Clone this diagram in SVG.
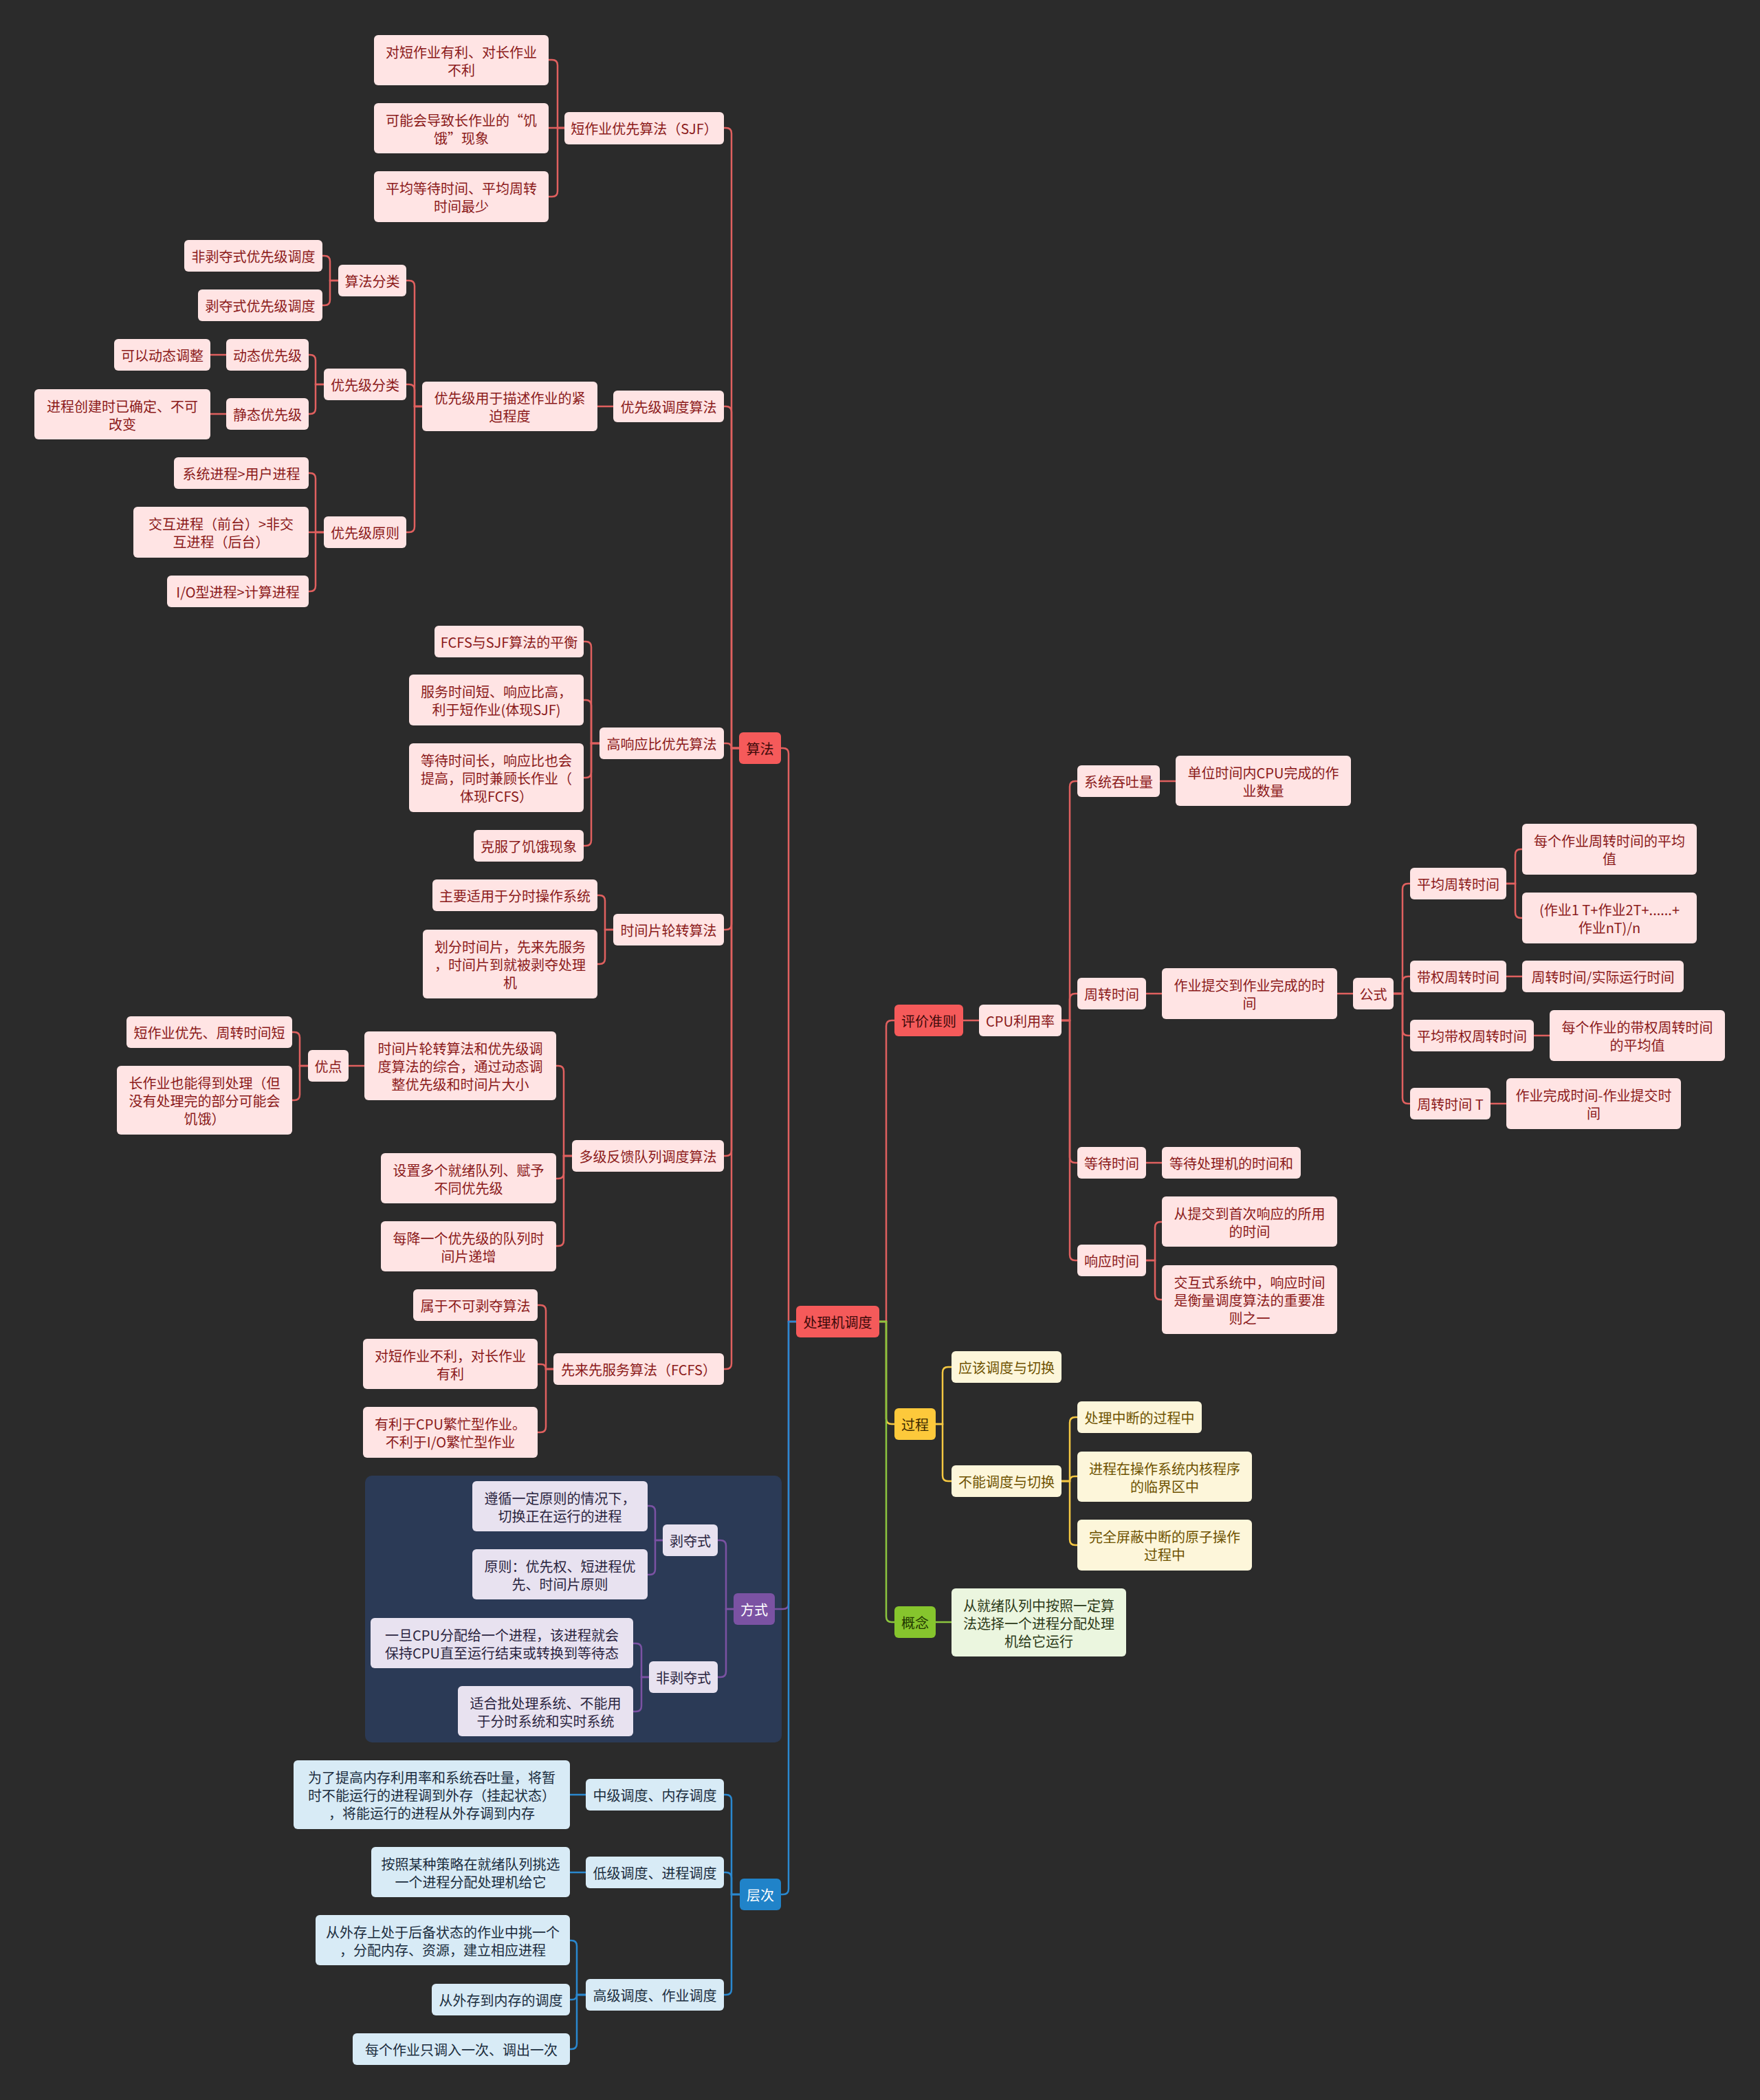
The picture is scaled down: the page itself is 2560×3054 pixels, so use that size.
<svg xmlns="http://www.w3.org/2000/svg" width="2560" height="3054" viewBox="0 0 2560 3054">
<style>
text{font-family:"Noto Sans CJK SC","Noto Sans",sans-serif;font-size:20px;text-anchor:middle;dominant-baseline:central}
rect{rx:6px;ry:6px}
.pk rect{fill:#ffe4e4}.pk text{fill:#8b1a1a}
.rd rect{fill:#f55a5a}.rd text{fill:#3d0a0a}
.pu rect{fill:#7b52a3}.pu text{fill:#ffffff}
.lv rect{fill:#e8e2f0}.lv text{fill:#2b2540}
.bl rect{fill:#2083c9}.bl text{fill:#ffffff}
.lb rect{fill:#d8ebf6}.lb text{fill:#1b2d3e}
.ye rect{fill:#fdc93b}.ye text{fill:#3d2a00}
.cr rect{fill:#fdf6da}.cr text{fill:#6e5200}
.gr rect{fill:#86c52d}.gr text{fill:#213600}
.lg rect{fill:#ebf6df}.lg text{fill:#2c3a18}
#links path{fill:none;stroke-width:2.5}
.cR{stroke:#e0605f}.cP{stroke:#7b52a3}.cB{stroke:#2a88cf}.cY{stroke:#f5c842}.cG{stroke:#8cc63f}
</style>
<rect x="0" y="0" width="2560" height="3054" fill="#2b2b2b" style="rx:0;ry:0"/>
<rect x="531" y="2146" width="606" height="388" fill="#2b3a56" style="rx:10px;ry:10px"/>
<g id="links">
<path class="cR" d="M1158 1922 H1147 V1096 Q1147 1088 1139 1088 H1136"/>
<path class="cP" d="M1158 1922 H1147 V2332 Q1147 2340 1139 2340 H1127"/>
<path class="cB" d="M1158 1922 H1147 V2747 Q1147 2755 1139 2755 H1136"/>
<path class="cR" d="M1279 1922 H1289 V1492 Q1289 1484 1297 1484 H1301"/>
<path class="cY" d="M1279 1922 H1289 V2063 Q1289 2071 1297 2071 H1301"/>
<path class="cG" d="M1279 1922 H1289 V2351 Q1289 2359 1297 2359 H1301"/>
<path class="cR" d="M1075 1088 H1064 V194 Q1064 186 1056 186 H1053"/>
<path class="cR" d="M1075 1088 H1064 V599 Q1064 591 1056 591 H1053"/>
<path class="cR" d="M1075 1088 H1064 Q1064 1081 1057 1081 H1053"/>
<path class="cR" d="M1075 1088 H1064 V1344 Q1064 1352 1056 1352 H1053"/>
<path class="cR" d="M1075 1088 H1064 V1673 Q1064 1681 1056 1681 H1053"/>
<path class="cR" d="M1075 1088 H1064 V1983 Q1064 1991 1056 1991 H1053"/>
<path class="cR" d="M821 186 H811 V95 Q811 87 803 87 H798"/>
<path class="cR" d="M821 186 H798"/>
<path class="cR" d="M821 186 H811 V278 Q811 286 803 286 H798"/>
<path class="cR" d="M892 591 H869"/>
<path class="cR" d="M614 591 H603 V416 Q603 408 595 408 H591"/>
<path class="cR" d="M614 591 H603 V567 Q603 559 595 559 H591"/>
<path class="cR" d="M614 591 H603 V766 Q603 774 595 774 H591"/>
<path class="cR" d="M492 408 H480 V380 Q480 372 472 372 H469"/>
<path class="cR" d="M492 408 H480 V436 Q480 444 472 444 H469"/>
<path class="cR" d="M471 559 H459 V524 Q459 516 451 516 H449"/>
<path class="cR" d="M471 559 H459 V594 Q459 602 451 602 H449"/>
<path class="cR" d="M329 516 H306"/>
<path class="cR" d="M329 602 H306"/>
<path class="cR" d="M471 774 H459 V696 Q459 688 451 688 H449"/>
<path class="cR" d="M471 774 H449"/>
<path class="cR" d="M471 774 H459 V852 Q459 860 451 860 H449"/>
<path class="cR" d="M872 1081 H860 V941 Q860 933 852 933 H849"/>
<path class="cR" d="M872 1081 H860 V1026 Q860 1018 852 1018 H849"/>
<path class="cR" d="M872 1081 H860 V1123 Q860 1131 852 1131 H849"/>
<path class="cR" d="M872 1081 H860 V1222 Q860 1230 852 1230 H849"/>
<path class="cR" d="M892 1352 H880 V1310 Q880 1302 872 1302 H869"/>
<path class="cR" d="M892 1352 H880 V1394 Q880 1402 872 1402 H869"/>
<path class="cR" d="M832 1681 H820 V1558 Q820 1550 812 1550 H809"/>
<path class="cR" d="M832 1681 H820 V1706 Q820 1714 812 1714 H809"/>
<path class="cR" d="M832 1681 H820 V1804 Q820 1812 812 1812 H809"/>
<path class="cR" d="M530 1550 H507"/>
<path class="cR" d="M448 1550 H436 V1509 Q436 1501 428 1501 H425"/>
<path class="cR" d="M448 1550 H436 V1592 Q436 1600 428 1600 H425"/>
<path class="cR" d="M805 1991 H794 V1906 Q794 1898 786 1898 H782"/>
<path class="cR" d="M805 1991 H794 Q794 1984 787 1984 H782"/>
<path class="cR" d="M805 1991 H794 V2075 Q794 2083 786 2083 H782"/>
<path class="cP" d="M1067 2340 H1056 V2248 Q1056 2240 1048 2240 H1044"/>
<path class="cP" d="M1067 2340 H1056 V2431 Q1056 2439 1048 2439 H1044"/>
<path class="cP" d="M964 2240 H953 V2198 Q953 2190 945 2190 H942"/>
<path class="cP" d="M964 2240 H953 V2282 Q953 2290 945 2290 H942"/>
<path class="cP" d="M944 2439 H933 V2398 Q933 2390 925 2390 H921"/>
<path class="cP" d="M944 2439 H933 V2481 Q933 2489 925 2489 H921"/>
<path class="cB" d="M1076 2755 H1064 V2618 Q1064 2610 1056 2610 H1053"/>
<path class="cB" d="M1076 2755 H1064 V2731 Q1064 2723 1056 2723 H1053"/>
<path class="cB" d="M1076 2755 H1064 V2893 Q1064 2901 1056 2901 H1053"/>
<path class="cB" d="M852 2610 H829"/>
<path class="cB" d="M852 2723 H829"/>
<path class="cB" d="M852 2901 H839 V2830 Q839 2822 831 2822 H829"/>
<path class="cB" d="M852 2901 H839 Q839 2908 832 2908 H829"/>
<path class="cB" d="M852 2901 H839 V2972 Q839 2980 831 2980 H829"/>
<path class="cR" d="M1401 1484 H1424"/>
<path class="cR" d="M1544 1484 H1556 V1144 Q1556 1136 1564 1136 H1567"/>
<path class="cR" d="M1544 1484 H1556 V1453 Q1556 1445 1564 1445 H1567"/>
<path class="cR" d="M1544 1484 H1556 V1683 Q1556 1691 1564 1691 H1567"/>
<path class="cR" d="M1544 1484 H1556 V1825 Q1556 1833 1564 1833 H1567"/>
<path class="cR" d="M1687 1136 H1710"/>
<path class="cR" d="M1667 1445 H1690"/>
<path class="cR" d="M1945 1445 H1968"/>
<path class="cR" d="M2027 1445 H2040 V1293 Q2040 1285 2048 1285 H2051"/>
<path class="cR" d="M2027 1445 H2040 V1428 Q2040 1420 2048 1420 H2051"/>
<path class="cR" d="M2027 1445 H2040 V1498 Q2040 1506 2048 1506 H2051"/>
<path class="cR" d="M2027 1445 H2040 V1597 Q2040 1605 2048 1605 H2051"/>
<path class="cR" d="M2191 1285 H2204 V1243 Q2204 1235 2212 1235 H2214"/>
<path class="cR" d="M2191 1285 H2204 V1327 Q2204 1335 2212 1335 H2214"/>
<path class="cR" d="M2191 1420 H2214"/>
<path class="cR" d="M2231 1506 H2254"/>
<path class="cR" d="M2168 1605 H2191"/>
<path class="cR" d="M1667 1691 H1690"/>
<path class="cR" d="M1667 1833 H1680 V1785 Q1680 1777 1688 1777 H1690"/>
<path class="cR" d="M1667 1833 H1680 V1882 Q1680 1890 1688 1890 H1690"/>
<path class="cY" d="M1361 2071 H1371 V1996 Q1371 1988 1379 1988 H1384"/>
<path class="cY" d="M1361 2071 H1371 V2146 Q1371 2154 1379 2154 H1384"/>
<path class="cY" d="M1544 2154 H1556 V2069 Q1556 2061 1564 2061 H1567"/>
<path class="cY" d="M1544 2154 H1556 Q1556 2147 1563 2147 H1567"/>
<path class="cY" d="M1544 2154 H1556 V2239 Q1556 2247 1564 2247 H1567"/>
<path class="cG" d="M1361 2359 H1384"/>
</g>
<g id="n1" class="pk"><rect x="544" y="51" width="254" height="73"/><text><tspan x="671" y="74.5">对短作业有利、对长作业</tspan><tspan x="671" y="100.5">不利</tspan></text></g>
<g id="n2" class="pk"><rect x="544" y="150" width="254" height="73"/><text><tspan x="671" y="173.5">可能会导致长作业的“饥</tspan><tspan x="671" y="199.5">饿”现象</tspan></text></g>
<g id="n3" class="pk"><rect x="544" y="249" width="254" height="74"/><text><tspan x="671" y="273">平均等待时间、平均周转</tspan><tspan x="671" y="299">时间最少</tspan></text></g>
<g id="n4" class="pk"><rect x="821" y="163" width="232" height="47"/><text x="937" y="186.5">短作业优先算法（SJF）</text></g>
<g id="n5" class="pk"><rect x="268" y="349" width="201" height="46"/><text x="368.5" y="372">非剥夺式优先级调度</text></g>
<g id="n6" class="pk"><rect x="288" y="421" width="181" height="46"/><text x="378.5" y="444">剥夺式优先级调度</text></g>
<g id="n7" class="pk"><rect x="492" y="385" width="99" height="46"/><text x="541.5" y="408">算法分类</text></g>
<g id="n8" class="pk"><rect x="166" y="493" width="140" height="46"/><text x="236" y="516">可以动态调整</text></g>
<g id="n9" class="pk"><rect x="329" y="493" width="120" height="46"/><text x="389" y="516">动态优先级</text></g>
<g id="n10" class="pk"><rect x="471" y="536" width="120" height="46"/><text x="531" y="559">优先级分类</text></g>
<g id="n11" class="pk"><rect x="50" y="566" width="256" height="73"/><text><tspan x="178" y="589.5">进程创建时已确定、不可</tspan><tspan x="178" y="615.5">改变</tspan></text></g>
<g id="n12" class="pk"><rect x="329" y="579" width="120" height="46"/><text x="389" y="602">静态优先级</text></g>
<g id="n13" class="pk"><rect x="614" y="555" width="255" height="72"/><text><tspan x="741.5" y="578">优先级用于描述作业的紧</tspan><tspan x="741.5" y="604">迫程度</tspan></text></g>
<g id="n14" class="pk"><rect x="892" y="568" width="161" height="46"/><text x="972.5" y="591">优先级调度算法</text></g>
<g id="n15" class="pk"><rect x="253" y="665" width="196" height="46"/><text x="351" y="688">系统进程&gt;用户进程</text></g>
<g id="n16" class="pk"><rect x="194" y="737" width="255" height="74"/><text><tspan x="321.5" y="761">交互进程（前台）&gt;非交</tspan><tspan x="321.5" y="787">互进程（后台）</tspan></text></g>
<g id="n17" class="pk"><rect x="243" y="837" width="206" height="46"/><text x="346" y="860">I/O型进程&gt;计算进程</text></g>
<g id="n18" class="pk"><rect x="471" y="751" width="120" height="46"/><text x="531" y="774">优先级原则</text></g>
<g id="n19" class="pk"><rect x="632" y="910" width="217" height="46"/><text x="740.5" y="933">FCFS与SJF算法的平衡</text></g>
<g id="n20" class="pk"><rect x="595" y="981" width="254" height="74"/><text><tspan x="722" y="1005">服务时间短、响应比高，</tspan><tspan x="722" y="1031">利于短作业(体现SJF)</tspan></text></g>
<g id="n21" class="pk"><rect x="595" y="1081" width="254" height="100"/><text><tspan x="722" y="1105">等待时间长，响应比也会</tspan><tspan x="722" y="1131">提高，同时兼顾长作业（</tspan><tspan x="722" y="1157">体现FCFS）</tspan></text></g>
<g id="n22" class="pk"><rect x="689" y="1207" width="160" height="46"/><text x="769" y="1230">克服了饥饿现象</text></g>
<g id="n23" class="pk"><rect x="872" y="1058" width="181" height="46"/><text x="962.5" y="1081">高响应比优先算法</text></g>
<g id="n24" class="pk"><rect x="629" y="1279" width="240" height="46"/><text x="749" y="1302">主要适用于分时操作系统</text></g>
<g id="n25" class="pk"><rect x="615" y="1352" width="254" height="100"/><text><tspan x="742" y="1376">划分时间片，先来先服务</tspan><tspan x="742" y="1402">，时间片到就被剥夺处理</tspan><tspan x="742" y="1428">机</tspan></text></g>
<g id="n26" class="pk"><rect x="892" y="1329" width="161" height="46"/><text x="972.5" y="1352">时间片轮转算法</text></g>
<g id="n27" class="pk"><rect x="184" y="1478" width="241" height="46"/><text x="304.5" y="1501">短作业优先、周转时间短</text></g>
<g id="n28" class="pk"><rect x="170" y="1550" width="255" height="100"/><text><tspan x="297.5" y="1574">长作业也能得到处理（但</tspan><tspan x="297.5" y="1600">没有处理完的部分可能会</tspan><tspan x="297.5" y="1626">饥饿）</tspan></text></g>
<g id="n29" class="pk"><rect x="448" y="1527" width="59" height="46"/><text x="477.5" y="1550">优点</text></g>
<g id="n30" class="pk"><rect x="530" y="1500" width="279" height="100"/><text><tspan x="669.5" y="1524">时间片轮转算法和优先级调</tspan><tspan x="669.5" y="1550">度算法的综合，通过动态调</tspan><tspan x="669.5" y="1576">整优先级和时间片大小</tspan></text></g>
<g id="n31" class="pk"><rect x="554" y="1677" width="255" height="73"/><text><tspan x="681.5" y="1700.5">设置多个就绪队列、赋予</tspan><tspan x="681.5" y="1726.5">不同优先级</tspan></text></g>
<g id="n32" class="pk"><rect x="554" y="1776" width="255" height="73"/><text><tspan x="681.5" y="1799.5">每降一个优先级的队列时</tspan><tspan x="681.5" y="1825.5">间片递增</tspan></text></g>
<g id="n33" class="pk"><rect x="832" y="1658" width="221" height="46"/><text x="942.5" y="1681">多级反馈队列调度算法</text></g>
<g id="n34" class="pk"><rect x="601" y="1875" width="181" height="46"/><text x="691.5" y="1898">属于不可剥夺算法</text></g>
<g id="n35" class="pk"><rect x="528" y="1947" width="254" height="73"/><text><tspan x="655" y="1970.5">对短作业不利，对长作业</tspan><tspan x="655" y="1996.5">有利</tspan></text></g>
<g id="n36" class="pk"><rect x="528" y="2046" width="254" height="74"/><text><tspan x="655" y="2070">有利于CPU繁忙型作业。</tspan><tspan x="655" y="2096">不利于I/O繁忙型作业</tspan></text></g>
<g id="n37" class="pk"><rect x="805" y="1968" width="248" height="46"/><text x="929" y="1991">先来先服务算法（FCFS）</text></g>
<g id="n38" class="rd"><rect x="1075" y="1065" width="61" height="46"/><text x="1105.5" y="1088">算法</text></g>
<g id="n39" class="rd"><rect x="1158" y="1899" width="121" height="46"/><text x="1218.5" y="1922">处理机调度</text></g>
<g id="n40" class="lv"><rect x="687" y="2154" width="255" height="73"/><text><tspan x="814.5" y="2177.5">遵循一定原则的情况下，</tspan><tspan x="814.5" y="2203.5">切换正在运行的进程</tspan></text></g>
<g id="n41" class="lv"><rect x="687" y="2253" width="255" height="73"/><text><tspan x="814.5" y="2276.5">原则：优先权、短进程优</tspan><tspan x="814.5" y="2302.5">先、时间片原则</tspan></text></g>
<g id="n42" class="lv"><rect x="964" y="2217" width="80" height="46"/><text x="1004" y="2240">剥夺式</text></g>
<g id="n43" class="lv"><rect x="539" y="2353" width="382" height="73"/><text><tspan x="730" y="2376.5">一旦CPU分配给一个进程，该进程就会</tspan><tspan x="730" y="2402.5">保持CPU直至运行结束或转换到等待态</tspan></text></g>
<g id="n44" class="lv"><rect x="666" y="2452" width="255" height="73"/><text><tspan x="793.5" y="2475.5">适合批处理系统、不能用</tspan><tspan x="793.5" y="2501.5">于分时系统和实时系统</tspan></text></g>
<g id="n45" class="lv"><rect x="944" y="2416" width="100" height="46"/><text x="994" y="2439">非剥夺式</text></g>
<g id="n46" class="pu"><rect x="1067" y="2317" width="60" height="46"/><text x="1097" y="2340">方式</text></g>
<g id="n47" class="lb"><rect x="427" y="2560" width="402" height="100"/><text><tspan x="628" y="2584">为了提高内存利用率和系统吞吐量，将暂</tspan><tspan x="628" y="2610">时不能运行的进程调到外存（挂起状态）</tspan><tspan x="628" y="2636">，将能运行的进程从外存调到内存</tspan></text></g>
<g id="n48" class="lb"><rect x="852" y="2587" width="201" height="46"/><text x="952.5" y="2610">中级调度、内存调度</text></g>
<g id="n49" class="lb"><rect x="540" y="2686" width="289" height="73"/><text><tspan x="684.5" y="2709.5">按照某种策略在就绪队列挑选</tspan><tspan x="684.5" y="2735.5">一个进程分配处理机给它</tspan></text></g>
<g id="n50" class="lb"><rect x="852" y="2700" width="201" height="46"/><text x="952.5" y="2723">低级调度、进程调度</text></g>
<g id="n51" class="lb"><rect x="459" y="2785" width="370" height="73"/><text><tspan x="644" y="2808.5">从外存上处于后备状态的作业中挑一个</tspan><tspan x="644" y="2834.5">，分配内存、资源，建立相应进程</tspan></text></g>
<g id="n52" class="lb"><rect x="628" y="2885" width="201" height="46"/><text x="728.5" y="2908">从外存到内存的调度</text></g>
<g id="n53" class="lb"><rect x="513" y="2957" width="316" height="46"/><text x="671" y="2980">每个作业只调入一次、调出一次</text></g>
<g id="n54" class="lb"><rect x="852" y="2878" width="201" height="46"/><text x="952.5" y="2901">高级调度、作业调度</text></g>
<g id="n55" class="bl"><rect x="1076" y="2732" width="60" height="46"/><text x="1106" y="2755">层次</text></g>
<g id="n56" class="rd"><rect x="1301" y="1461" width="100" height="46"/><text x="1351" y="1484">评价准则</text></g>
<g id="n57" class="pk"><rect x="1424" y="1461" width="120" height="46"/><text x="1484" y="1484">CPU利用率</text></g>
<g id="n58" class="pk"><rect x="1567" y="1113" width="120" height="46"/><text x="1627" y="1136">系统吞吐量</text></g>
<g id="n59" class="pk"><rect x="1710" y="1099" width="255" height="73"/><text><tspan x="1837.5" y="1122.5">单位时间内CPU完成的作</tspan><tspan x="1837.5" y="1148.5">业数量</tspan></text></g>
<g id="n60" class="pk"><rect x="1567" y="1422" width="100" height="46"/><text x="1617" y="1445">周转时间</text></g>
<g id="n61" class="pk"><rect x="1690" y="1408" width="255" height="74"/><text><tspan x="1817.5" y="1432">作业提交到作业完成的时</tspan><tspan x="1817.5" y="1458">间</tspan></text></g>
<g id="n62" class="pk"><rect x="1968" y="1422" width="59" height="46"/><text x="1997.5" y="1445">公式</text></g>
<g id="n63" class="pk"><rect x="2051" y="1262" width="140" height="46"/><text x="2121" y="1285">平均周转时间</text></g>
<g id="n64" class="pk"><rect x="2214" y="1198" width="254" height="74"/><text><tspan x="2341" y="1222">每个作业周转时间的平均</tspan><tspan x="2341" y="1248">值</tspan></text></g>
<g id="n65" class="pk"><rect x="2214" y="1298" width="254" height="74"/><text><tspan x="2341" y="1322">(作业1 T+作业2T+......+</tspan><tspan x="2341" y="1348">作业nT)/n</tspan></text></g>
<g id="n66" class="pk"><rect x="2051" y="1397" width="140" height="46"/><text x="2121" y="1420">带权周转时间</text></g>
<g id="n67" class="pk"><rect x="2214" y="1397" width="235" height="46"/><text x="2331.5" y="1420">周转时间/实际运行时间</text></g>
<g id="n68" class="pk"><rect x="2051" y="1483" width="180" height="46"/><text x="2141" y="1506">平均带权周转时间</text></g>
<g id="n69" class="pk"><rect x="2254" y="1469" width="255" height="74"/><text><tspan x="2381.5" y="1493">每个作业的带权周转时间</tspan><tspan x="2381.5" y="1519">的平均值</tspan></text></g>
<g id="n70" class="pk"><rect x="2051" y="1582" width="117" height="46"/><text x="2109.5" y="1605">周转时间 T</text></g>
<g id="n71" class="pk"><rect x="2191" y="1568" width="254" height="74"/><text><tspan x="2318" y="1592">作业完成时间-作业提交时</tspan><tspan x="2318" y="1618">间</tspan></text></g>
<g id="n72" class="pk"><rect x="1567" y="1668" width="100" height="46"/><text x="1617" y="1691">等待时间</text></g>
<g id="n73" class="pk"><rect x="1690" y="1668" width="202" height="46"/><text x="1791" y="1691">等待处理机的时间和</text></g>
<g id="n74" class="pk"><rect x="1567" y="1810" width="100" height="46"/><text x="1617" y="1833">响应时间</text></g>
<g id="n75" class="pk"><rect x="1690" y="1740" width="255" height="73"/><text><tspan x="1817.5" y="1763.5">从提交到首次响应的所用</tspan><tspan x="1817.5" y="1789.5">的时间</tspan></text></g>
<g id="n76" class="pk"><rect x="1690" y="1840" width="255" height="100"/><text><tspan x="1817.5" y="1864">交互式系统中，响应时间</tspan><tspan x="1817.5" y="1890">是衡量调度算法的重要准</tspan><tspan x="1817.5" y="1916">则之一</tspan></text></g>
<g id="n77" class="ye"><rect x="1301" y="2048" width="60" height="46"/><text x="1331" y="2071">过程</text></g>
<g id="n78" class="cr"><rect x="1384" y="1965" width="160" height="46"/><text x="1464" y="1988">应该调度与切换</text></g>
<g id="n79" class="cr"><rect x="1384" y="2131" width="160" height="46"/><text x="1464" y="2154">不能调度与切换</text></g>
<g id="n80" class="cr"><rect x="1567" y="2038" width="181" height="46"/><text x="1657.5" y="2061">处理中断的过程中</text></g>
<g id="n81" class="cr"><rect x="1567" y="2111" width="254" height="73"/><text><tspan x="1694" y="2134.5">进程在操作系统内核程序</tspan><tspan x="1694" y="2160.5">的临界区中</tspan></text></g>
<g id="n82" class="cr"><rect x="1567" y="2210" width="254" height="74"/><text><tspan x="1694" y="2234">完全屏蔽中断的原子操作</tspan><tspan x="1694" y="2260">过程中</tspan></text></g>
<g id="n83" class="gr"><rect x="1301" y="2336" width="60" height="46"/><text x="1331" y="2359">概念</text></g>
<g id="n84" class="lg"><rect x="1384" y="2310" width="254" height="99"/><text><tspan x="1511" y="2333.5">从就绪队列中按照一定算</tspan><tspan x="1511" y="2359.5">法选择一个进程分配处理</tspan><tspan x="1511" y="2385.5">机给它运行</tspan></text></g>
</svg>
